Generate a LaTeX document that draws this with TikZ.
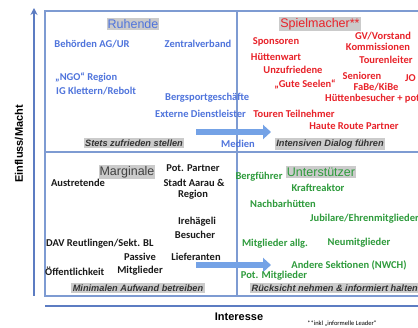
\documentclass[tikz,border=0pt]{standalone}
\usepackage{fontspec}
\setmainfont{Carlito}
\newfontfamily\arialfont{Liberation Sans}
\usetikzlibrary{arrows.meta}
\definecolor{cblue}{HTML}{4F74DC}
\definecolor{cred}{HTML}{E8232A}
\definecolor{cgreen}{HTML}{2E9B3C}
\definecolor{cframe}{HTML}{7E9BD2}
\definecolor{caxis}{HTML}{5C7CC2}
\definecolor{cgraybg}{HTML}{CBCBCB}
\definecolor{carrow}{HTML}{74A2E6}
\definecolor{cdark}{HTML}{1A1A1A}
\tikzset{
  lab/.style={font=\fontsize{10.5}{11}\selectfont\bfseries, inner sep=0pt},
  bl/.style={lab, text=cblue},
  rd/.style={lab, text=cred},
  gr/.style={lab, text=cgreen},
  bk/.style={lab, text=cdark},
  qtitle/.style={font=\arialfont\fontsize{12.5}{13}\selectfont, fill=cgraybg, inner xsep=1pt, inner ysep=1.5pt},
  motto/.style={font=\arialfont\fontsize{9.2}{10}\selectfont\bfseries\itshape, fill=cgraybg, text=black!80, inner xsep=1.5pt, inner ysep=1.5pt},
  frameline/.style={draw=cframe, line width=1.1pt},
  blockarrow/.style={draw=carrow, line width=6pt, -{Triangle[length=8pt, width=14pt]}},
  axislab/.style={font=\arialfont\fontsize{11}{12}\selectfont\bfseries, inner sep=0pt}
}
\begin{document}
\begin{tikzpicture}[x=1pt,y=-1pt]
\useasboundingbox (0,0) rectangle (418,328);
\clip (0,0) rectangle (418,328);
\fill[white] (0,0) rectangle (418,328);
% frame
\coordinate (tl) at (45,11);
\coordinate (br) at (440,296);
\draw[frameline] (tl) rectangle (br);
\coordinate (vt) at (237,11);
\coordinate (vb) at (237,296);
\coordinate (hl) at (45,152);
\coordinate (hr) at (440,152);
\draw[frameline] (vt) -- (vb);
\draw[frameline] (hl) -- (hr);
% axes
\coordinate (ya0) at (34,296);
\coordinate (ya1) at (34,8);
\draw[caxis, line width=1.4pt, -{Stealth[length=7pt,width=7pt]}] (ya0) -- (ya1);
\coordinate (xa0) at (45,306);
\coordinate (xa1) at (440,306);
\draw[caxis, line width=1.6pt] (xa0) -- (xa1);
\node[axislab, rotate=90] (ymacht) at (19,144) {Einfluss/Macht};
\node[axislab] (xint) at (239,317) {Interesse};
\node[font=\fontsize{6.5}{7}\selectfont, inner sep=0pt] (foot) at (342,324) {**inkl „informelle Leader“};
% block arrows
\coordinate (a1s) at (196,132);
\coordinate (a1e) at (271,132);
\draw[blockarrow] (a1s) -- (a1e);
\coordinate (a2s) at (196,265);
\coordinate (a2e) at (271,265);
\draw[blockarrow] (a2s) -- (a2e);
% Ruhende
\node[qtitle, text=cblue] (t1) at (133,24) {Ruhende};
\node[bl] (n1) at (92,44) {Behörden AG/UR};
\node[bl] (n2) at (198,44) {Zentralverband};
\node[bl, anchor=west] (n3) at (55,78) {„NGO“ Region};
\node[bl, anchor=west] (n4) at (56,91) {IG Klettern/Rebolt};
\node[bl, anchor=west] (n5) at (165,98) {Bergsportgeschäfte};
\node[bl, anchor=west] (n6) at (155,114) {Externe Dienstleister};
\node[bl] (n7) at (238,144) {Medien};
\node[motto] (m1) at (134,143) {Stets zufrieden stellen};
% Spielmacher
\node[qtitle, text=cred] (t2) at (320,24) {Spielmacher**};
\node[rd] (r1) at (276,42) {Sponsoren};
\node[rd] (r2) at (383,36) {GV/Vorstand};
\node[rd] (r3) at (378,47) {Kommissionen};
\node[rd] (r4) at (276,57) {Hüttenwart};
\node[rd] (r5) at (386,60) {Tourenleiter};
\node[rd] (r6) at (293,70) {Unzufriedene};
\node[rd] (r7) at (362,76) {Senioren};
\node[rd, anchor=west] (r8) at (405,78) {JO};
\node[rd] (r9) at (305,84) {„Gute Seelen“};
\node[rd] (r10) at (376,87) {FaBe/KiBe};
\node[rd, anchor=west] (r11) at (325,99) {Hüttenbesucher + pot.};
\node[rd] (r12) at (294,114) {Touren Teilnehmer};
\node[rd] (r13) at (354,126) {Haute Route Partner};
\node[motto] (m2) at (330,144) {Intensiven Dialog führen};
% Marginale
\node[qtitle, text=black!75] (t3) at (127,172) {Marginale};
\node[bk] (k1) at (78,183) {Austretende};
\node[bk] (k2) at (193,168) {Pot. Partner};
\node[bk] (k3) at (194,183) {Stadt Aarau \&};
\node[bk] (k4) at (193,195) {Region};
\node[bk] (k5) at (197,222) {Irehägeli};
\node[bk] (k6) at (195,235) {Besucher};
\node[bk, anchor=west] (k7) at (46,244) {DAV Reutlingen/Sekt. BL};
\node[bk] (k8) at (140,257) {Passive};
\node[bk] (k9) at (196,257) {Lieferanten};
\node[bk, anchor=west] (k10) at (45,271) {Öffentlichkeit};
\node[bk] (k11) at (140,271) {Mitglieder};
\node[motto] (m3) at (138,288) {Minimalen Aufwand betreiben};
% Unterstuetzer
\node[qtitle, text=cgreen] (t4) at (321,172) {Unterstützer};
\node[gr] (g1) at (259,177) {Bergführer};
\node[gr] (g2) at (318,188) {Kraftreaktor};
\node[gr] (g3) at (283,204) {Nachbarhütten};
\node[gr, anchor=west] (g4) at (310,219) {Jubilare/Ehrenmitglieder};
\node[gr] (g5) at (275,244) {Mitglieder allg.};
\node[gr] (g6) at (359,243) {Neumitglieder};
\node[gr] (g7) at (349,265) {Andere Sektionen (NWCH)};
\node[gr] (g8) at (274,276) {Pot. Mitglieder};
\node[motto, anchor=west] (m4) at (250,288) {Rücksicht nehmen \& informiert halten};
\end{tikzpicture}
\end{document}
